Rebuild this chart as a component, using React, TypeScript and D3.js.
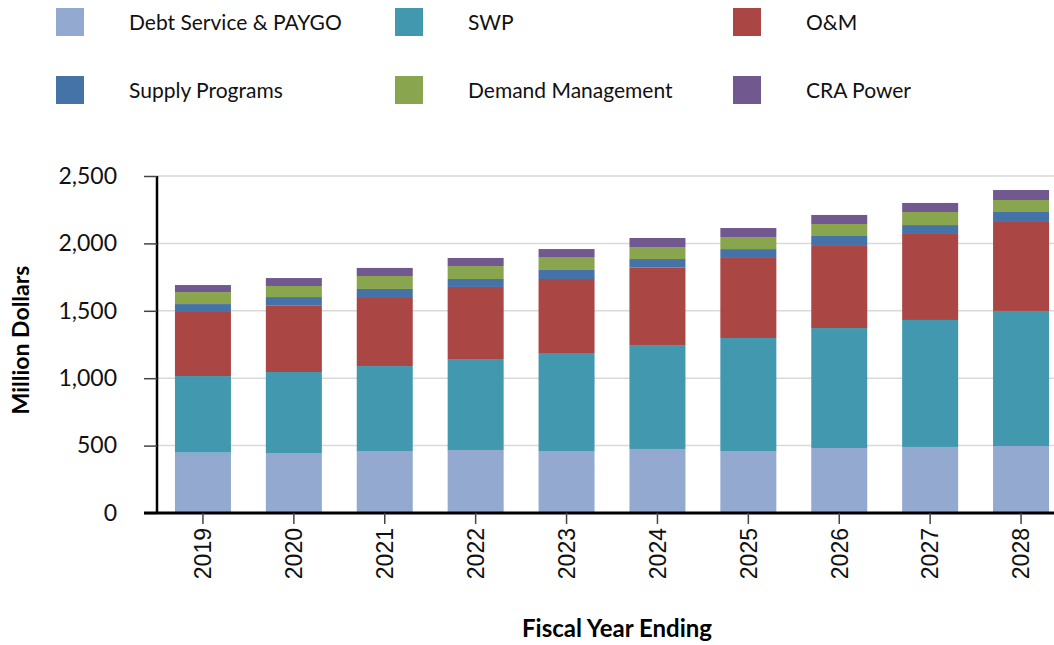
import React, { useEffect, useRef } from 'react';
import * as d3 from 'd3';

// fiscal years
const years = ['2019', '2020', '2021', '2022', '2023', '2024', '2025', '2026', '2027', '2028'];

// million dollars
const debtService = [448, 445, 460, 467, 460, 475, 460, 482, 490, 497];
const swp = [568, 601, 630, 675, 727, 771, 838, 890, 942, 1002];
const oandm = [475, 495, 512, 535, 549, 574, 594, 609, 638, 660];
const supplyPrograms = [59, 61, 60, 59, 67, 64, 66, 74, 66, 74];
const demandManagement = [89, 82, 96, 96, 96, 89, 89, 89, 97, 89];
const craPower = [52, 59, 60, 60, 59, 67, 67, 67, 67, 74];

const seriesNames = ['Debt Service & PAYGO', 'SWP', 'O&M', 'Supply Programs', 'Demand Management', 'CRA Power'];
const seriesColors = ['#93A9CF', '#4198AF', '#AA4643', '#4572A7', '#89A54E', '#71588F'];
const yTicks = [0, 500, 1000, 1500, 2000, 2500];

const App = () => {
  const ref = useRef<SVGSVGElement>(null);

  useEffect(() => {
    const svg = d3.select(ref.current);
    svg.selectAll('*').remove();

    const allSeries = [debtService, swp, oandm, supplyPrograms, demandManagement, craPower];
    const rows = years.map((yr, i) => {
      const row: any = { year: yr };
      seriesNames.forEach((name, k) => { row[name] = allSeries[k][i]; });
      return row;
    });
    const stacked = d3.stack().keys(seriesNames)(rows);

    const left = 157, bottom = 513, top = 176;

    const x = d3.scaleBand()
      .domain(years)
      .range([157.5, 1066.5])
      .paddingInner(0.384)
      .paddingOuter(0.192);

    const y = d3.scaleLinear().domain([0, 2500]).range([bottom, top]);

    // grid
    svg.append('g')
      .selectAll('line')
      .data(yTicks.slice(1))
      .enter().append('line')
      .attr('x1', left).attr('x2', 1054)
      .attr('y1', d => y(d)).attr('y2', d => y(d))
      .attr('stroke', '#d9d9d9')
      .attr('stroke-width', 1.5);

    // bars
    svg.append('g')
      .selectAll('g')
      .data(stacked)
      .enter().append('g')
      .attr('fill', (d, i) => seriesColors[i])
      .selectAll('rect')
      .data(d => d)
      .enter().append('rect')
      .attr('x', (d: any) => x(d.data.year) as number)
      .attr('width', x.bandwidth())
      .attr('y', d => y(d[1]))
      .attr('height', d => y(d[0]) - y(d[1]));

    // y axis
    const yAxis = svg.append('g')
      .attr('transform', 'translate(' + left + ',0)')
      .call(d3.axisLeft(y).tickValues(yTicks).tickSize(13).tickPadding(27).tickFormat(d3.format(',')));
    yAxis.select('.domain').attr('stroke', '#000').attr('stroke-width', 2.5).attr('d', `M0,${top}V${bottom}`);
    yAxis.selectAll('.tick line').attr('stroke', '#444').attr('stroke-width', 1.5);
    yAxis.selectAll('.tick text')
      .attr('fill', '#111')
      .style('font-family', 'Lato, sans-serif')
      .style('font-size', '23px');

    // x axis
    const xAxis = svg.append('g')
      .attr('transform', 'translate(0,' + bottom + ')')
      .call(d3.axisBottom(x).tickSize(11).tickSizeOuter(0));
    xAxis.select('.domain').attr('stroke', '#000').attr('stroke-width', 3).attr('d', 'M144,0H1054');
    xAxis.selectAll('.tick line').attr('stroke', '#444').attr('stroke-width', 1.5);
    xAxis.selectAll('.tick text')
      .attr('transform', 'rotate(-90)')
      .attr('text-anchor', 'end')
      .attr('x', -15)
      .attr('y', 0)
      .attr('dy', '0.36em')
      .attr('fill', '#111')
      .style('font-family', '"Liberation Sans", Arial, sans-serif')
      .style('font-size', '23px');

    // axis titles
    svg.append('text')
      .attr('transform', 'translate(29,340) rotate(-90)')
      .attr('text-anchor', 'middle')
      .style('font-family', 'Lato, sans-serif')
      .style('font-weight', 'bold')
      .style('font-size', '23px')
      .text('Million Dollars');

    svg.append('text')
      .attr('x', 617)
      .attr('y', 637)
      .attr('text-anchor', 'middle')
      .style('font-family', 'Lato, sans-serif')
      .style('font-weight', 'bold')
      .style('font-size', '24px')
      .text('Fiscal Year Ending');

    // legend
    const colX = [56, 395, 733];
    const rowY = [8, 76];
    const legend = svg.append('g')
      .selectAll('g')
      .data(seriesNames)
      .enter().append('g')
      .attr('transform', (d, i) => 'translate(' + colX[i % 3] + ',' + rowY[Math.floor(i / 3)] + ')');
    legend.append('rect')
      .attr('width', 28).attr('height', 28)
      .attr('fill', (d, i) => seriesColors[i]);
    legend.append('text')
      .attr('x', 73)
      .attr('y', 22)
      .style('font-family', 'Lato, sans-serif')
      .style('font-size', '21px')
      .attr('fill', '#111')
      .text(d => d);
  }, []);

  return (
    <svg ref={ref} width={1054} height={645}
      style={{ position: 'absolute', left: 0, top: 0, background: '#fff' }} />
  );
};

export default App;
